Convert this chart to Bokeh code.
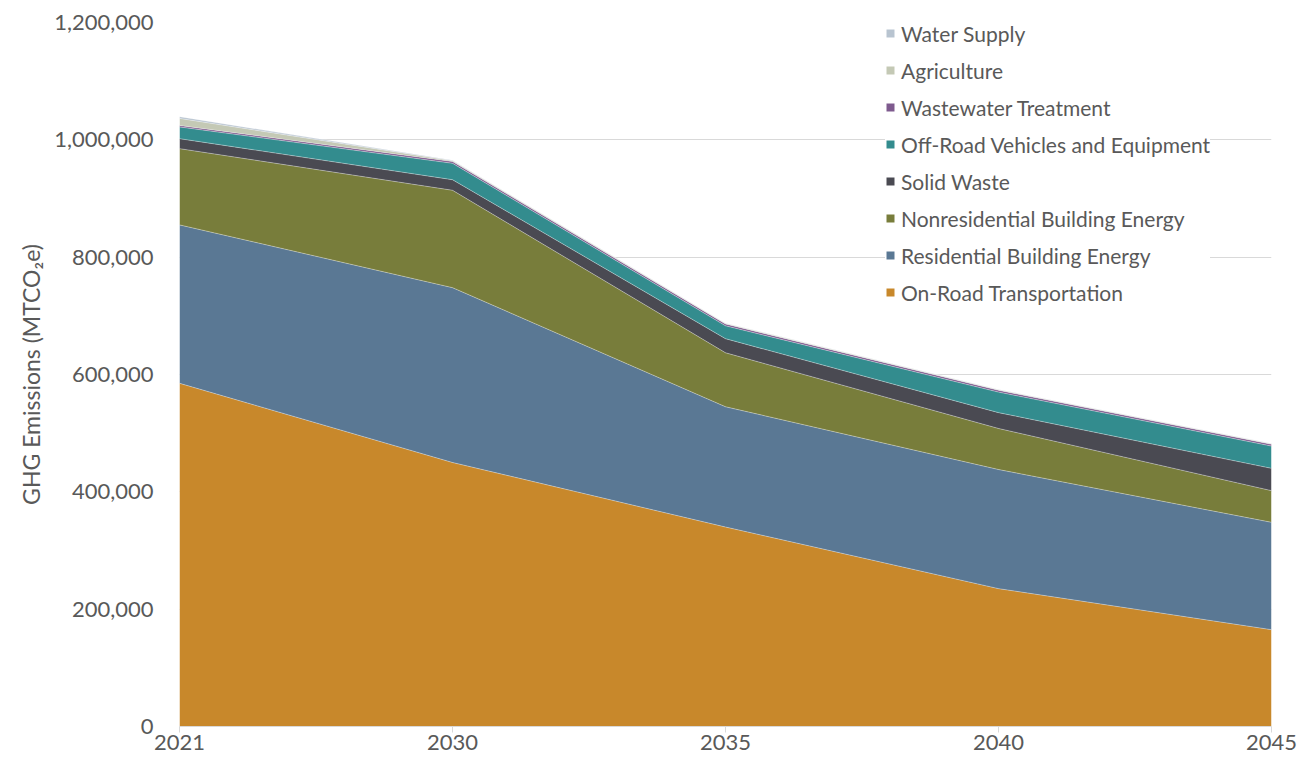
from bokeh.plotting import figure
from bokeh.models import ColumnDataSource, Legend, LegendItem, FixedTicker, NumeralTickFormatter
from bokeh.embed import file_html
from bokeh.resources import INLINE

years = ["2021", "2030", "2035", "2040", "2045"]
on_road = [585000, 450000, 340000, 235000, 165000]
residential = [270000, 298000, 205000, 203000, 183000]
nonresidential = [130000, 166000, 92000, 70000, 54000]
solid_waste = [17000, 18000, 24000, 27000, 38000]
off_road = [20000, 28000, 22000, 35000, 38000]
wastewater = [2500, 3000, 3000, 3000, 3000]
agriculture = [12000, 1500, 1000, 1000, 1000]
water_supply = [3000, 500, 500, 500, 500]

names = ["On-Road Transportation", "Residential Building Energy", "Nonresidential Building Energy",
         "Solid Waste", "Off-Road Vehicles and Equipment", "Wastewater Treatment",
         "Agriculture", "Water Supply"]
series = [on_road, residential, nonresidential, solid_waste, off_road, wastewater, agriculture, water_supply]
colors = ["#C8882B", "#5A7894", "#787D3B", "#4A4A52", "#338C8E", "#7E5A8E", "#C4C9B5", "#B8C4D0"]

keys = ["s%d" % i for i in range(len(series))]
data = {"x": list(range(len(years)))}
for k, s in zip(keys, series):
    data[k] = s
source = ColumnDataSource(data)

FONT = "Lato"
GREY = "#595959"

p = figure(width=1300, height=770, output_backend="svg", toolbar_location=None,
           x_range=(0, len(years) - 1), y_range=(0, 1200000),
           min_border_left=179, min_border_right=29, min_border_top=22, min_border_bottom=44)
p.outline_line_color = None

renderers = p.varea_stack(stackers=keys, x="x", source=source, color=colors)

# thin light boundary lines
cum = [0] * len(years)
for s in series:
    cum = [c + v for c, v in zip(cum, s)]
    p.line(list(range(len(years))), list(cum), line_color="white", line_alpha=0.35, line_width=1)

items = [LegendItem(label=n, renderers=[r]) for n, r in zip(names, renderers)]
items.reverse()
legend = Legend(items=items, location=(706, 421), orientation="vertical",
                background_fill_color="white", background_fill_alpha=1.0, border_line_color=None,
                label_text_font=FONT, label_text_font_size="21px", label_text_color=GREY,
                glyph_width=10, glyph_height=10, label_height=26, spacing=11,
                label_standoff=6, padding=4, margin=0)
p.add_layout(legend)

p.xaxis.ticker = FixedTicker(ticks=list(range(len(years))))
p.xaxis.major_label_overrides = {i: y for i, y in enumerate(years)}
p.xaxis.axis_line_color = "#D9D9D9"
p.xaxis.major_tick_line_color = "#D9D9D9"
p.xaxis.major_tick_out = 6
p.xaxis.major_tick_in = 0
p.xaxis.minor_tick_line_color = None
p.xaxis.major_label_text_font = FONT
p.xaxis.major_label_text_font_size = "22px"
p.xaxis.major_label_text_color = GREY
p.xaxis.major_label_standoff = 2

p.yaxis.ticker = FixedTicker(ticks=[0, 200000, 400000, 600000, 800000, 1000000, 1200000])
p.yaxis.formatter = NumeralTickFormatter(format="0,0")
p.yaxis.axis_line_color = None
p.yaxis.major_tick_line_color = None
p.yaxis.minor_tick_line_color = None
p.yaxis.major_label_text_font = FONT
p.yaxis.major_label_text_font_size = "22px"
p.yaxis.major_label_text_color = GREY
p.yaxis.major_label_standoff = 20
p.yaxis.axis_label = "GHG Emissions (MTCO₂e)"
p.yaxis.axis_label_text_font = FONT
p.yaxis.axis_label_text_font_size = "23px"
p.yaxis.axis_label_text_font_style = "normal"
p.yaxis.axis_label_text_color = GREY
p.yaxis.axis_label_standoff = 6

p.xgrid.grid_line_color = None
p.ygrid.grid_line_color = "#D9D9D9"
p.ygrid.grid_line_width = 1

open("out.html", "w").write(file_html(p, INLINE))
